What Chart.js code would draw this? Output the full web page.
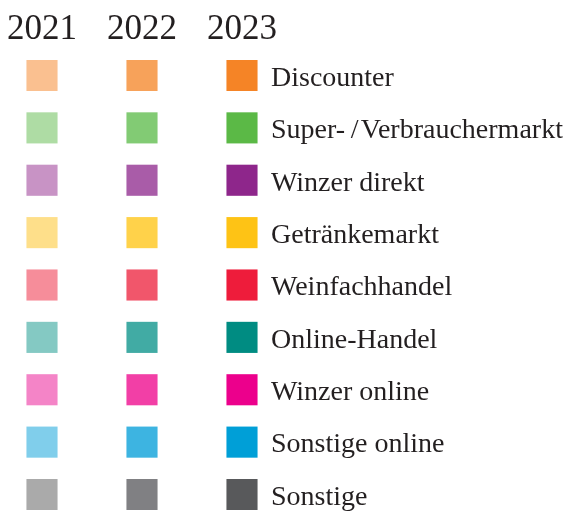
<!DOCTYPE html>
<html>
<head>
<meta charset="utf-8">
<script src="https://cdn.jsdelivr.net/npm/chart.js@4/dist/chart.umd.min.js"></script>
<style>
  html, body { margin: 0; padding: 0; background: #fff; }
  #wrap { width: 570px; height: 514px; }
</style>
</head>
<body>
<div id="wrap"><canvas id="legendChart"></canvas></div>
<script>
// Legend data
const years = ['2021', '2022', '2023'];
const categories = [
    'Discounter',
    'Super-\u2009/\u200aVerbrauchermarkt',
    'Winzer direkt',
    'Getränkemarkt',
    'Weinfachhandel',
    'Online-Handel',
    'Winzer online',
    'Sonstige online',
    'Sonstige'
];
const colors2021 = ['#fac090', '#aedca4', '#c893c5', '#fedf8a', '#f68d9a', '#84c9c3', '#f484c7', '#80ceeb', '#aaaaaa'];
const colors2022 = ['#f7a25a', '#82cb74', '#a95ca8', '#ffd24a', '#f1566b', '#41aba4', '#f23fa6', '#3db4e1', '#808083'];
const colors2023 = ['#f58426', '#5bb946', '#8e268b', '#fec315', '#ee1c3b', '#008c82', '#ec008c', '#009fd7', '#58595b'];
const yearColors = [colors2021, colors2022, colors2023];

const textColor = '#231f20';
const serif = "'Liberation Serif', 'Times New Roman', serif";

const datasets = years.map((year, i) => ({
    label: year,
    data: categories.map(cat => ({ x: year, y: cat })),
    backgroundColor: yearColors[i],
    borderWidth: 0,
    pointStyle: 'rect',
    pointRadius: 22,
    pointHoverRadius: 22,
    clip: false
}));

// no automatic padding from tick labels
function noPadding(scale) {
    scale.paddingLeft = 0;
    scale.paddingRight = 0;
    scale.paddingTop = 0;
    scale.paddingBottom = 0;
}

new Chart(document.getElementById('legendChart'), {
    type: 'scatter',
    data: { datasets },
    options: {
        responsive: true,
        maintainAspectRatio: false,
        animation: false,
        events: [],
        layout: {
            autoPadding: false,
            padding: { left: 42, right: 0, top: 0, bottom: 19.5 }
        },
        plugins: {
            legend: { display: false },
            tooltip: { enabled: false }
        },
        scales: {
            x: {
                type: 'category',
                labels: years,
                position: 'top',
                offset: false,
                grid: { display: false, drawTicks: false },
                border: { display: false },
                ticks: {
                    color: textColor,
                    font: { family: serif, size: 35 },
                    padding: 25,
                    maxRotation: 0,
                    autoSkip: false
                },
                afterFit(scale) {
                    scale.height = 75.5;
                    noPadding(scale);
                }
            },
            y: {
                type: 'category',
                labels: categories,
                position: 'right',
                offset: false,
                grid: { display: false, drawTicks: false },
                border: { display: false },
                ticks: {
                    color: textColor,
                    font: { family: serif, size: 28 },
                    padding: 29,
                    labelOffset: 3,
                    autoSkip: false
                },
                afterFit(scale) {
                    scale.width = 328;
                    noPadding(scale);
                }
            }
        }
    }
});
</script>
</body>
</html>
